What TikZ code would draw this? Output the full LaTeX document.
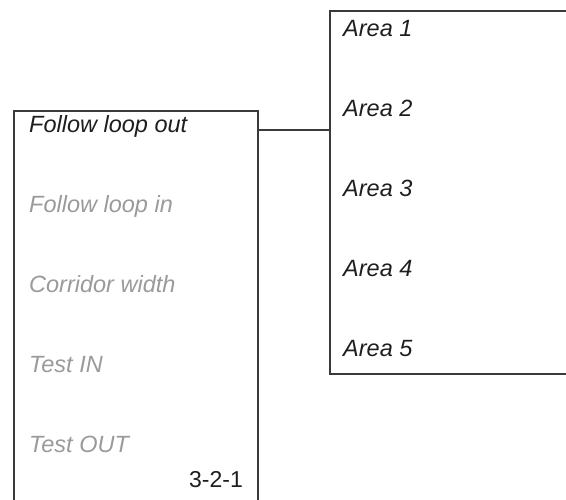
\documentclass[tikz,border=0pt]{standalone}
\usepackage{fontspec}
\setmainfont{Liberation Sans}
\definecolor{linec}{HTML}{3A3A3A}
\definecolor{dark}{HTML}{1E1E1E}
\definecolor{dim}{HTML}{9A9A9A}
\begin{document}
\begin{tikzpicture}[x=1pt,y=-1pt,
  item/.style={anchor=base west,inner sep=0pt,font=\fontsize{23.5}{27}\selectfont\itshape},
  active/.style={item,text=dark},
  inactive/.style={item,text=dim},
  frame/.style={draw=linec,line width=1.1pt},
  boxarea/.style={anchor=north west,inner sep=0pt,outer sep=0pt}]
\useasboundingbox (0,0) rectangle (566,500);
% boxes (open on the page edges)
\node[boxarea,minimum width=244pt,minimum height=389pt] (leftbox) at (14,111) {};
\node[boxarea,minimum width=236pt,minimum height=363pt] (rightbox) at (330,11) {};
\draw[frame] (leftbox.south west) -- (leftbox.north west) -- (leftbox.north east) -- (leftbox.south east);
\draw[frame] (rightbox.north east) -- (rightbox.north west) -- (rightbox.south west) -- (rightbox.south east);
% left menu
\node[active]   (fout) at (29,133) {Follow loop out};
\node[inactive] (fin)  at (29,213) {Follow loop in};
\node[inactive] (cw)   at (29,293) {Corridor width};
\node[inactive] (tin)  at (29,373) {Test IN};
\node[inactive] (tout) at (29,453) {Test OUT};
\node[anchor=base east,inner sep=0pt,text=dark,font=\fontsize{23}{27}\selectfont] (code) at (243,487) {3-2-1};
% right menu
\node[active] (a1) at (343,37)  {Area 1};
\node[active] (a2) at (343,117) {Area 2};
\node[active] (a3) at (343,197) {Area 3};
\node[active] (a4) at (343,277) {Area 4};
\node[active] (a5) at (343,357) {Area 5};
% connector
\coordinate (cl) at ([yshift=-19pt]leftbox.north east);
\draw[frame] (cl) -- (cl -| rightbox.west);
\end{tikzpicture}
\end{document}
